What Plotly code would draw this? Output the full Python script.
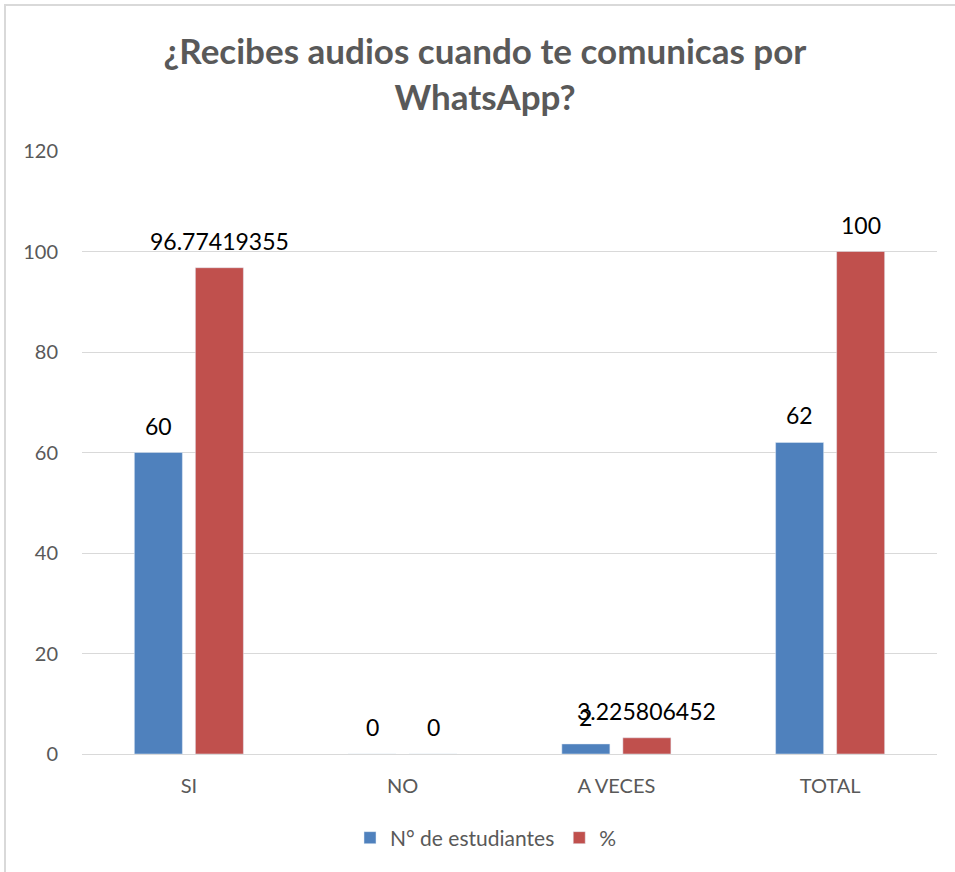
import plotly.graph_objects as go

categories = ["SI", "NO", "A VECES", "TOTAL"]
estudiantes = [60, 0, 2, 62]
porcentaje = [96.77419355, 0, 3.225806452, 100]
est_labels = ["60", "0", "2", "62"]
pct_labels = ["96.77419355", "0", "3.225806452", "100"]
y_ticks = [0, 20, 40, 60, 80, 100, 120]

FONT = "Lato"
GRAY = "#595959"

fig = go.Figure()
fig.add_trace(go.Bar(
    x=categories, y=estudiantes, name="N° de estudiantes",
    marker=dict(color="#4F81BD"),
))
fig.add_trace(go.Bar(
    x=categories, y=porcentaje, name="%",
    marker=dict(color="#C0504D"),
))

# data labels placed above each bar, through the axes
for cat, val, lab in zip(categories, estudiantes, est_labels):
    fig.add_annotation(x=cat, y=val, text=lab, showarrow=False,
                       xshift=-30.5, yshift=27, yanchor="middle",
                       font=dict(family=FONT, size=23, color="#000000"))
for cat, val, lab in zip(categories, porcentaje, pct_labels):
    fig.add_annotation(x=cat, y=val, text=lab, showarrow=False,
                       xshift=30.5, yshift=27, yanchor="middle",
                       font=dict(family=FONT, size=23, color="#000000"))

fig.update_layout(
    width=955, height=872,
    margin=dict(l=82, r=18, t=151, b=118),
    paper_bgcolor="white", plot_bgcolor="white",
    barmode="group", bargap=0.429, bargroupgap=0.213,
    title=dict(
        text="¿Recibes audios cuando te comunicas por<br>WhatsApp?",
        xref="container", yref="container",
        x=485 / 955, xanchor="center", y=1 - 64 / 872, yanchor="middle",
        font=dict(family=FONT, size=35, color=GRAY, weight="bold"),
    ),
    font=dict(family=FONT, size=20, color=GRAY),
    showlegend=True,
    legend=dict(
        orientation="h", xref="container", yref="container",
        x=486 / 955, xanchor="center", y=(872 - 838) / 872, yanchor="middle",
        font=dict(family=FONT, size=21, color=GRAY),
        traceorder="normal",
    ),
)
fig.update_xaxes(
    showline=True, linecolor="#D9D9D9", linewidth=1,
    tickfont=dict(family=FONT, size=20, color=GRAY),
    ticks="", showgrid=False, ticklabelstandoff=14,
)
fig.update_yaxes(
    range=[0, 120], tickvals=y_ticks,
    showgrid=True, gridcolor="#D9D9D9", gridwidth=1,
    zeroline=False, showline=False, ticks="",
    tickfont=dict(family=FONT, size=20, color=GRAY),
    ticklabelstandoff=23,
)
# outer frame (top and left edges visible in the reference)
fig.add_shape(type="rect", xref="paper", yref="paper",
              x0=(5 - 82) / 855, x1=(990 - 82) / 855,
              y0=(754 - 900) / 603, y1=(754 - 5) / 603,
              line=dict(color="#D9D9D9", width=2), fillcolor="rgba(0,0,0,0)",
              layer="below")

fig.write_html("out.html", config={"displayModeBar": False},
               post_script="document.body.style.margin='0';")
